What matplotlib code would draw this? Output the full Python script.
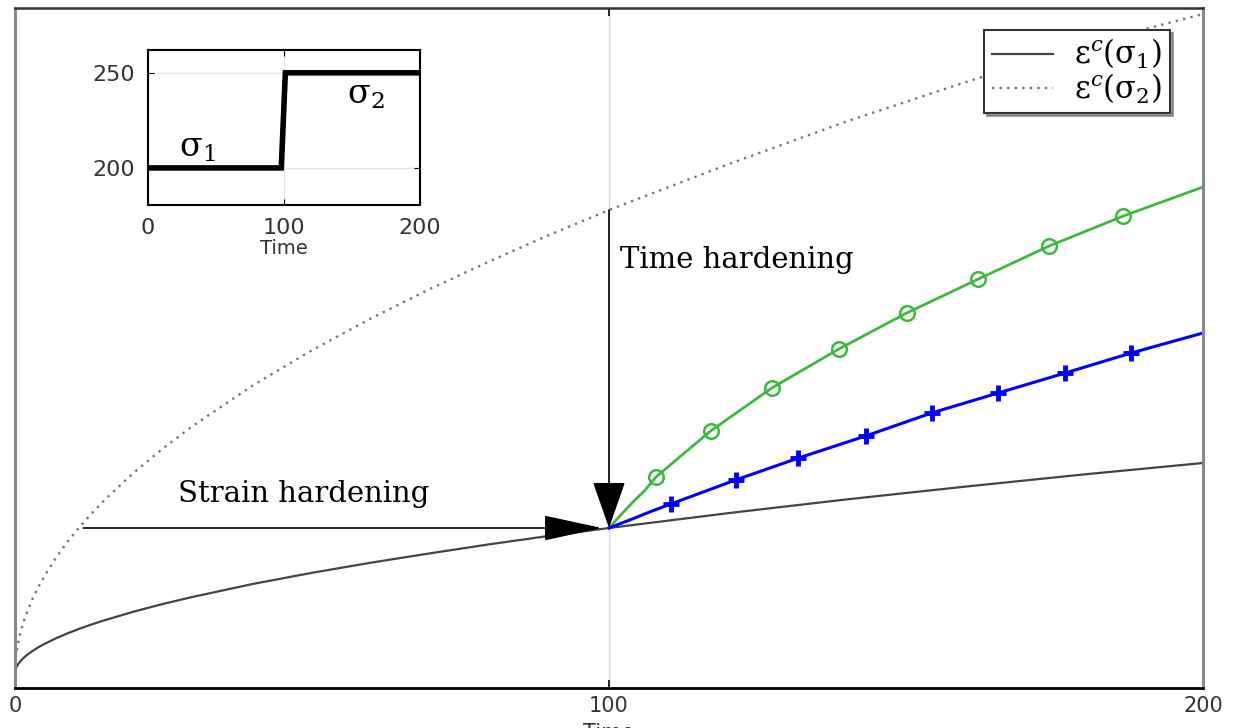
import matplotlib
matplotlib.use("Agg")
import matplotlib.pyplot as plt

plt.rcParams["mathtext.fontset"] = "dejavuserif"
plt.rcParams["font.family"] = "DejaVu Sans"

# Creep strain under constant stress sigma_1 (solid) and sigma_2 (dotted)
t_curve = [0, 0.2, 0.5, 1, 1.5, 2, 3, 4, 5, 7, 9, 11, 13, 15, 20, 25, 30, 40,
           50, 60, 70, 80, 90, 100, 120, 140, 160, 180, 200]
eps_sigma1 = [0.075, 0.101, 0.118, 0.137, 0.152, 0.165, 0.186, 0.205, 0.221,
              0.250, 0.275, 0.298, 0.319, 0.338, 0.382, 0.421, 0.456, 0.520,
              0.576, 0.627, 0.674, 0.719, 0.761, 0.800, 0.874, 0.943, 1.007,
              1.068, 1.125]
eps_sigma2 = [0.075, 0.166, 0.222, 0.286, 0.336, 0.378, 0.449, 0.509, 0.562,
              0.656, 0.737, 0.809, 0.876, 0.938, 1.077, 1.200, 1.312, 1.512,
              1.689, 1.849, 1.997, 2.135, 2.266, 2.390, 2.618, 2.833, 3.029,
              3.215, 3.370]

# Response after the stress step at t = 100
t_strain_hard = [100, 102, 104, 106, 107.9, 117.1, 127.4, 138.7, 150.1, 162.2,
                 174.1, 186.6, 200]
eps_strain_hard = [0.800, 0.866, 0.929, 0.987, 1.055, 1.285, 1.500, 1.695,
                   1.875, 2.045, 2.210, 2.360, 2.505]
strain_marks = [4, 5, 6, 7, 8, 9, 10, 11]

t_time_hard = [100, 104, 107, 110.4, 121.3, 131.9, 143.2, 154.3, 165.5, 176.8,
               187.9, 200]
eps_time_hard = [0.800, 0.846, 0.882, 0.920, 1.040, 1.150, 1.260, 1.375,
                 1.475, 1.575, 1.675, 1.775]
time_marks = [3, 4, 5, 6, 7, 8, 9, 10]

# Stress history
t_stress = [0, 98, 101, 200]
stress = [200, 200, 250, 250]

t_step = 100
strain_start_t = 11.5

x_ticks = [0, 100, 200]
stress_ticks = [200, 250]

i_step = t_curve.index(t_step)

fig = plt.figure(figsize=(12.33, 7.28), dpi=100)
ax = fig.add_axes([15 / 1233, 40 / 728, 1188 / 1233, 680 / 728])

ax.axvline(t_step, color="#dddddd", lw=1.0, zorder=0)

ax.plot(t_curve, eps_sigma1, color="#444444", lw=1.6,
        label=r"$\mathrm{ε}^{c}(\mathrm{σ}_{1})$")
ax.plot(t_curve, eps_sigma2, color="#777777", lw=1.7, ls=(0, (1, 2.2)),
        label=r"$\mathrm{ε}^{c}(\mathrm{σ}_{2})$")
ax.plot(t_strain_hard, eps_strain_hard, color="#3cba3c", lw=2.0,
        marker="o", markevery=strain_marks, ms=10.5, mfc="none", mew=1.8)
ax.plot(t_time_hard, eps_time_hard, color="#0000ff", lw=2.2,
        marker="+", markevery=time_marks, ms=11, mew=3.5)

# Time hardening: drop vertically from sigma_2 curve to sigma_1 curve
ax.annotate("", xy=(t_step, eps_sigma1[i_step]), xytext=(t_step, eps_sigma2[i_step]),
            arrowprops=dict(arrowstyle="-|>,head_length=1.0,head_width=0.35",
                            mutation_scale=30, color="black", lw=1.2,
                            shrinkA=0, shrinkB=0))
# Strain hardening: move horizontally along the equal-strain line
ax.annotate("", xy=(98.8, eps_sigma1[i_step]),
            xytext=(strain_start_t, eps_sigma1[i_step]),
            arrowprops=dict(arrowstyle="-|>,head_length=1.25,head_width=0.27",
                            mutation_scale=30, color="black", lw=1.2,
                            shrinkA=0, shrinkB=0))

serif = ["DejaVu Serif"]
ax.text(101.9, 2.10, "Time hardening", family=serif, fontsize=21,
        va="baseline", ha="left")
ax.text(27.4, 0.93, "Strain hardening", family=serif, fontsize=21,
        va="baseline", ha="left")

ax.set_xlim(0, 200)
ax.set_ylim(0, 3.4)
ax.set_xticks(x_ticks)
ax.set_yticks([])
ax.tick_params(axis="x", direction="in", top=True, length=6, width=1.2,
               labelsize=15, labelcolor="#333333", pad=6)
ax.set_xlabel("Time", fontsize=15, labelpad=5, color="#333333")
for side in ["left", "right"]:
    ax.spines[side].set_color("#888888")
    ax.spines[side].set_linewidth(2.2)
ax.spines["bottom"].set_linewidth(2.0)
ax.spines["top"].set_linewidth(1.8)
ax.spines["top"].set_color("#333333")

leg = ax.legend(loc="upper right", bbox_to_anchor=(0.972, 0.968),
                borderaxespad=0, fontsize=22, handlelength=2.0,
                frameon=True, fancybox=False, shadow=True,
                labelspacing=0.0, borderpad=0.25, handletextpad=0.7)
leg.get_frame().set_edgecolor("#333333")
leg.get_frame().set_linewidth(1.5)

# Inset: stress history
ins = fig.add_axes([148 / 1233, (728 - 205) / 728, 272 / 1233, 155 / 728])
ins.grid(True, color="#e6e6e6", lw=1.0)
ins.set_axisbelow(True)
ins.plot(t_stress, stress, color="black", lw=4.0, solid_joinstyle="miter")
ins.set_xlim(0, 200)
ins.set_ylim(180.5, 262)
ins.set_xticks(x_ticks)
ins.set_yticks(stress_ticks)
ins.tick_params(direction="in", length=4, labelsize=16, labelcolor="#333333",
                right=True, top=True, pad=9)
ins.set_xlabel("Time", fontsize=14, labelpad=1, color="#333333")
for sp in ins.spines.values():
    sp.set_linewidth(1.5)
ins.text(23, 205.8, r"$\mathrm{σ}_{1}$", fontsize=24, va="baseline")
ins.text(146, 234, r"$\mathrm{σ}_{2}$", fontsize=24, va="baseline")

fig.savefig("out.png", dpi=100)
